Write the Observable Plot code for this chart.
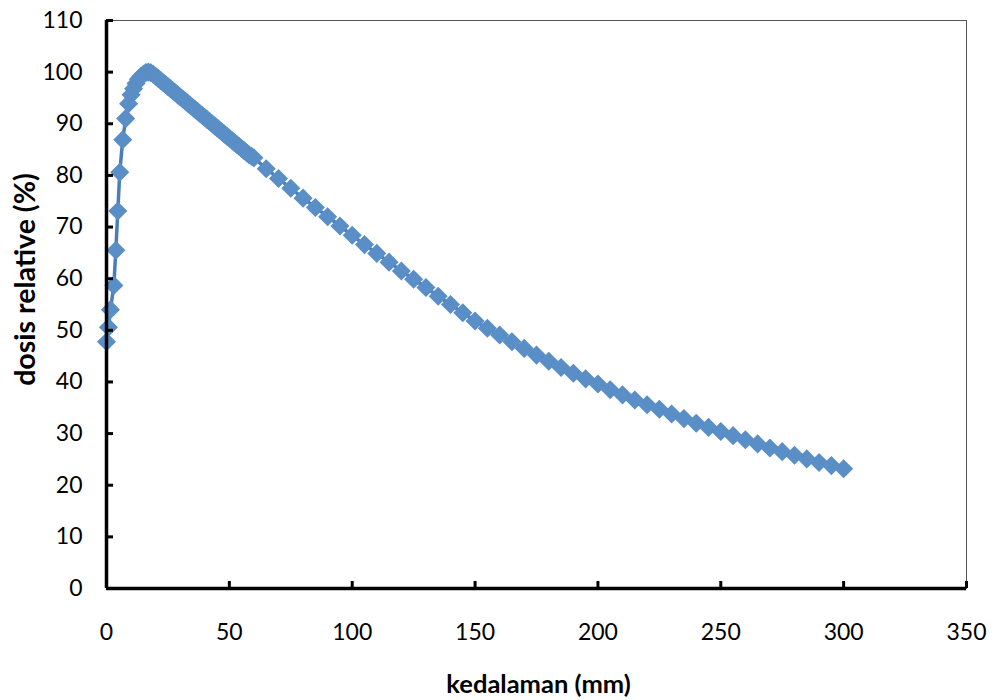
<!DOCTYPE html>
<html><head><meta charset="utf-8">
<script src="https://cdn.jsdelivr.net/npm/d3@7"></script>
<script src="https://cdn.jsdelivr.net/npm/@observablehq/plot@0.6"></script>
<style>body{margin:0;background:#fff;} #chart{position:relative;width:995px;height:700px;}</style>
</head><body><div id="chart"></div>
<script>
const depth = [0, 0.8, 1.6, 3.0, 3.8, 4.6, 5.4, 6.6, 7.8, 9.0,
  10, 11, 12, 13, 14, 15, 16, 17, 18, 19, 20,
  21, 22, 23, 24, 25, 26, 27, 28, 29, 30, 31, 32, 33, 34, 35, 36, 37, 38, 39, 40,
  41, 42, 43, 44, 45, 46, 47, 48, 49, 50, 51, 52, 53, 54, 55, 56, 57, 58, 59, 60,
  65, 70, 75, 80, 85, 90, 95, 100, 105, 110, 115, 120, 125, 130, 135, 140, 145, 150,
  155, 160, 165, 170, 175, 180, 185, 190, 195, 200, 205, 210, 215, 220, 225, 230,
  235, 240, 245, 250, 255, 260, 265, 270, 275, 280, 285, 290, 295, 300];
const dose = [47.8, 50.6, 54.0, 58.7, 65.5, 73.1, 80.6, 86.9, 91.0, 93.9,
  95.6, 96.8, 97.8, 98.6, 99.2, 99.6, 99.9, 100.0, 99.9, 99.6, 99.2,
  98.8, 98.4, 98.0, 97.6, 97.2, 96.8, 96.4, 96.0, 95.6, 95.2, 94.8, 94.4, 94.0, 93.6, 93.2, 92.8, 92.4, 92.0, 91.6, 91.2,
  90.8, 90.4, 90.0, 89.6, 89.2, 88.8, 88.4, 88.0, 87.6, 87.2, 86.8, 86.4, 86.0, 85.6, 85.2, 84.8, 84.4, 84.0, 83.7, 83.4,
  81.3, 79.4, 77.5, 75.6, 73.8, 72.0, 70.2, 68.4, 66.6, 64.9, 63.2, 61.5, 59.9, 58.3, 56.6, 55.0, 53.4, 51.8,
  50.4, 49.1, 47.8, 46.5, 45.2, 44.0, 42.8, 41.7, 40.6, 39.6, 38.5, 37.5, 36.5, 35.6, 34.7, 33.8,
  32.9, 32.0, 31.2, 30.4, 29.6, 28.8, 28.0, 27.2, 26.5, 25.8, 25.1, 24.4, 23.8, 23.2];
const xTicks = [0, 50, 100, 150, 200, 250, 300, 350];
const yTicks = [0, 10, 20, 30, 40, 50, 60, 70, 80, 90, 100, 110];
const xTitle = "kedalaman (mm)";
const yTitle = "dosis relative (%)";

const data = depth.map((d, i) => ({depth: d, dose: dose[i]}));
const font = "Lato, 'Open Sans', sans-serif";

const chart = Plot.plot({
  width: 995, height: 700,
  marginLeft: 106, marginRight: 29, marginTop: 20, marginBottom: 112,
  style: {fontFamily: font, background: "transparent", color: "#000", overflow: "visible"},
  x: {domain: [0, 350], label: null},
  y: {domain: [0, 110], label: null},
  marks: [
    Plot.frame({stroke: "#555", strokeWidth: 1}),
    Plot.line(data, {x: "depth", y: "dose", stroke: "#4a7ebb", strokeWidth: 3.5}),
    Plot.dot(data, {x: "depth", y: "dose", symbol: "diamond2", r: 8.6, fill: "#5a8ec6", stroke: "none"}),
    Plot.ruleX([0], {stroke: "#000", strokeWidth: 3.5}),
    Plot.ruleY([0], {stroke: "#000", strokeWidth: 3.5}),
    Plot.axisX({ticks: xTicks, tickSize: 7, dy: -7, strokeWidth: 3, stroke: "#000", tickFormat: () => "", label: null}),
    Plot.axisY({ticks: yTicks, tickSize: 7, dx: 7, strokeWidth: 3, stroke: "#000", tickFormat: () => "", label: null}),
    Plot.axisX({ticks: xTicks, tickSize: 0, tickPadding: 35, fontSize: 23, fill: "#000", label: null}),
    Plot.axisY({ticks: yTicks, tickSize: 0, tickPadding: 24, fontSize: 23, fill: "#000", label: null}),
    Plot.text([xTitle], {frameAnchor: "bottom", textAnchor: "middle", dx: 2, dy: 96, fontSize: 25.5, fontWeight: "bold", fill: "#000", lineAnchor: "middle"}),
    Plot.text([yTitle], {frameAnchor: "left", textAnchor: "middle", rotate: -90, dx: -81, dy: -25, fontSize: 28.5, fontWeight: "bold", fill: "#000", lineAnchor: "middle"})
  ]
});
document.getElementById("chart").appendChild(chart);
</script>
</body></html>
